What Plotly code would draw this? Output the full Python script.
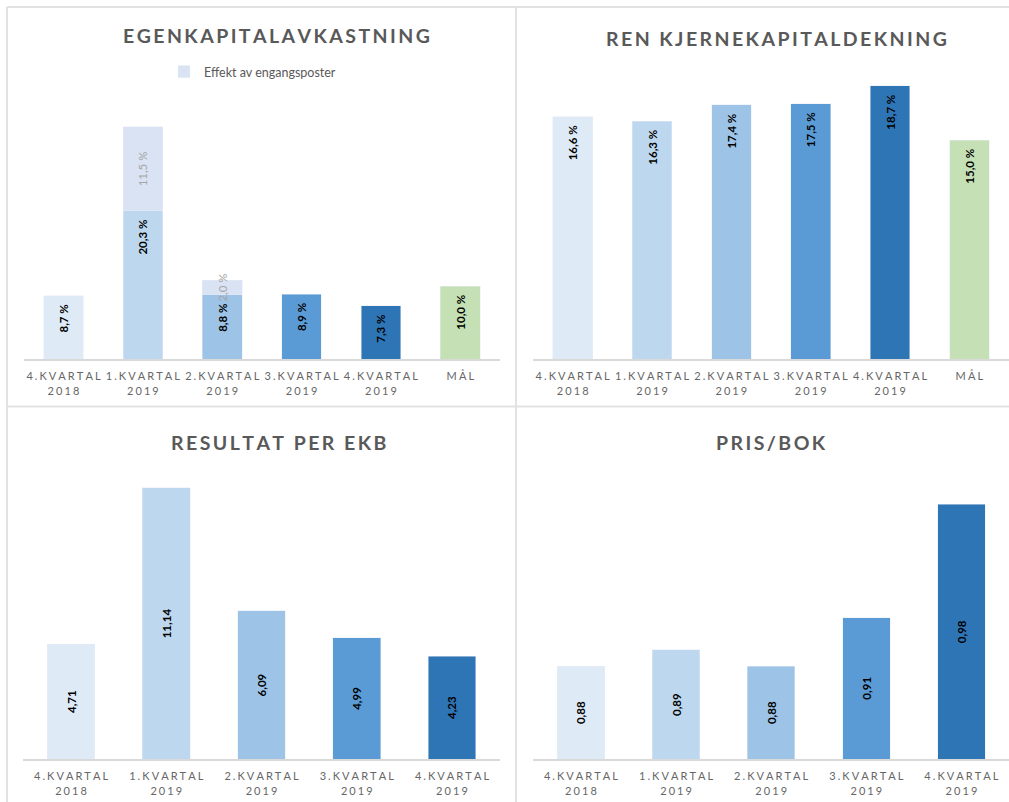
import plotly.graph_objects as go

# data
kvartal = ["4.KVARTAL 2018", "1.KVARTAL 2019", "2.KVARTAL 2019", "3.KVARTAL 2019", "4.KVARTAL 2019"]
kat_ek = kvartal + ["MÅL"]
ek_avk = [8.7, 20.3, 8.8, 8.9, 7.3, 10.0]
engang = [None, 11.5, 2.0, None, None, None]
ren_kjerne = [16.6, 16.3, 17.4, 17.5, 18.7, 15.0]
res_ekb = [4.71, 11.14, 6.09, 4.99, 4.23]
pris_bok = [0.88, 0.89, 0.88, 0.91, 0.98]
pb_bunn = 0.8226  # y-aksen for pris/bok starter ikke på null

farger = ["#DEEAF6", "#BDD7EE", "#9DC3E6", "#5B9BD5", "#2E75B6", "#C5E0B4"]
farge_engang = "#DAE3F3"
grå = "#595959"
W, H = 1009, 802
FONT = "Lato"


def sp(s, gap="\u2009"):
    return gap.join(s)


def ticktxt(k):
    return "<br>".join(sp(p, "\u2009\u200a") for p in k.split(" "))


def pct(v):
    return f"{v:.1f}".replace(".", ",") + " %"


def kr(v):
    return f"{v:.2f}".replace(".", ",")


etikett = dict(family=FONT, size=11.5, color="black", weight="bold")
pad = "\u2002"  # litt luft under toppen av søylen

fig = go.Figure()

fig.add_trace(go.Bar(
    x=kat_ek, y=ek_avk, marker_color=farger, showlegend=False,
    text=[pct(v) + pad for v in ek_avk], textposition="inside", insidetextanchor="end",
    textangle=-90, textfont=etikett, xaxis="x", yaxis="y"))
fig.add_trace(go.Bar(
    x=kat_ek, y=engang, marker_color=farge_engang, name="Effekt av engangsposter",
    text=[pct(v) if v else "" for v in engang], textposition="inside",
    insidetextanchor="middle", constraintext="none",
    textangle=-90, textfont=dict(family=FONT, size=11.5, color="#A6A6A6"),
    xaxis="x", yaxis="y"))
fig.add_trace(go.Bar(
    x=kat_ek, y=ren_kjerne, marker_color=farger, showlegend=False,
    text=[pct(v) + pad for v in ren_kjerne], textposition="inside", insidetextanchor="end",
    textangle=-90, textfont=etikett, xaxis="x2", yaxis="y2"))
fig.add_trace(go.Bar(
    x=kvartal, y=res_ekb, marker_color=farger[:5], showlegend=False,
    text=[kr(v) for v in res_ekb], textposition="inside", insidetextanchor="middle",
    textangle=-90, textfont=etikett, xaxis="x3", yaxis="y3"))
fig.add_trace(go.Bar(
    x=kvartal, y=[v - pb_bunn for v in pris_bok], base=pb_bunn,
    marker_color=farger[:5], showlegend=False,
    text=[kr(v) for v in pris_bok], textposition="inside", insidetextanchor="middle",
    textangle=-90, textfont=etikett, xaxis="x4", yaxis="y4"))


def px_x(a, b):
    return [a / W, min(b / W, 1.0)]


def px_y(bunn, topp):
    return [1 - bunn / H, 1 - topp / H]


xkw = dict(showline=True, linecolor="#D9D9D9", linewidth=2, ticks="", showgrid=False,
           zeroline=False, tickfont=dict(family=FONT, size=11, color="#666666"), tickangle=0,
           ticklabelstandoff=6, fixedrange=True)
ykw = dict(visible=False, showgrid=False, zeroline=False, fixedrange=True)

fig.update_layout(
    width=W, height=H, margin=dict(l=0, r=0, t=0, b=0),
    paper_bgcolor="white", plot_bgcolor="white",
    barmode="stack", bargap=0.5,
    font=dict(family=FONT, color=grå),
    xaxis=dict(domain=px_x(23.8, 500), anchor="y", tickvals=kat_ek,
               ticktext=[ticktxt(k) for k in kat_ek], **xkw),
    yaxis=dict(domain=px_y(359, 100), range=[0, 35.5], anchor="x", **ykw),
    xaxis2=dict(domain=px_x(533, 1009.5), anchor="y2", tickvals=kat_ek,
                ticktext=[ticktxt(k) for k in kat_ek], **xkw),
    yaxis2=dict(domain=px_y(359, 67), range=[0, 20], anchor="x2", **ykw),
    xaxis3=dict(domain=px_x(23.4, 499.6), anchor="y3", tickvals=kvartal,
                ticktext=[ticktxt(k) for k in kvartal], **xkw),
    yaxis3=dict(domain=px_y(759, 467), range=[0, 12], anchor="x3", **ykw),
    xaxis4=dict(domain=px_x(533.4, 1009.5), anchor="y4", tickvals=kvartal,
                ticktext=[ticktxt(k) for k in kvartal], **xkw),
    yaxis4=dict(domain=px_y(759, 472), range=[pb_bunn, 1.0], anchor="x4", **ykw),
    legend=dict(x=164 / W, y=1 - 72 / H, xanchor="left", yanchor="middle", itemwidth=30,
                font=dict(family=FONT, size=12.5, color=grå), bgcolor="rgba(0,0,0,0)"),
    showlegend=True,
)

titler = [("EGENKAPITALAVKASTNING", 276, 35), ("REN KJERNEKAPITALDEKNING", 776, 38),
          ("RESULTAT PER EKB", 278, 442), ("PRIS/BOK", 771, 442)]
for t, x, y in titler:
    fig.add_annotation(text=sp(t), x=x / W, y=1 - y / H, xref="paper", yref="paper",
                       showarrow=False, xanchor="center", yanchor="middle",
                       font=dict(family=FONT, size=19.5, color=grå, weight="bold"))

# rammer rundt panelene
linje = dict(color="#E2E2E2", width=2)
for x0, y0, x1, y1 in [(7, 7, 1009, 7), (7, 406.5, 1009, 406.5), (7, 7, 7, 802), (516, 7, 516, 802)]:
    fig.add_shape(type="line", xref="paper", yref="paper", x0=x0 / W, x1=x1 / W,
                  y0=1 - y0 / H, y1=1 - y1 / H, line=linje)

fig.write_html("out.html", config={"displayModeBar": False},
               post_script="document.body.style.margin='0';")
